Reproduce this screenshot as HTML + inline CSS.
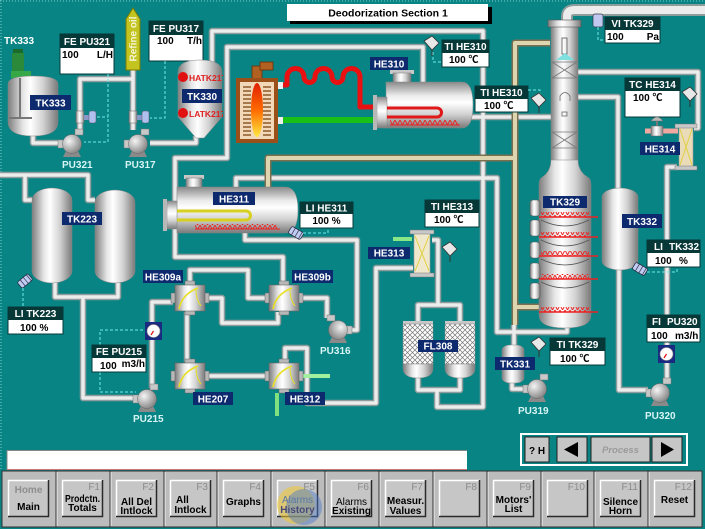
<!DOCTYPE html>
<html><head><meta charset="utf-8">
<style>
html,body{margin:0;padding:0;background:#088484;overflow:hidden}
svg{display:block}
text{font-family:"Liberation Sans","Noto Sans CJK SC",sans-serif;font-weight:bold}
.nv{fill:#0e2a6e}
.nt{fill:#fff;font-size:10px;text-anchor:middle}
.hd{fill:#073838}
.bx{fill:#fff;stroke:#073838;stroke-width:1}
.ht{fill:#fff;font-size:10px;text-anchor:middle}
.vt{fill:#000;font-size:10px}
.pl{fill:#d8f4f4;font-size:10px}
.fk{fill:#8c8c8c;font-size:10px;font-weight:normal;text-anchor:end}
.bt{fill:#000;font-size:10px;text-anchor:middle}
.dsh{fill:none;stroke:#70e8e8;stroke-width:1;stroke-dasharray:3,2}
</style></head><body>
<svg width="705" height="529" viewBox="0 0 705 529" xmlns="http://www.w3.org/2000/svg">
<defs>
<linearGradient id="gH" x1="0" y1="0" x2="1" y2="0">
<stop offset="0" stop-color="#7d7d7d"/><stop offset=".3" stop-color="#e6e6e6"/><stop offset=".45" stop-color="#ffffff"/><stop offset=".7" stop-color="#d2d2d2"/><stop offset="1" stop-color="#7a7a7a"/>
</linearGradient>
<linearGradient id="gV" x1="0" y1="0" x2="0" y2="1">
<stop offset="0" stop-color="#8a8a8a"/><stop offset=".3" stop-color="#ececec"/><stop offset=".45" stop-color="#ffffff"/><stop offset=".7" stop-color="#d2d2d2"/><stop offset="1" stop-color="#7a7a7a"/>
</linearGradient>
<radialGradient id="gR" cx=".35" cy=".35" r=".75">
<stop offset="0" stop-color="#f4f4f4"/><stop offset="1" stop-color="#7c7c7c"/>
</radialGradient>
<linearGradient id="flame" x1="0" y1="0" x2="0" y2="1">
<stop offset="0" stop-color="#e02000"/><stop offset=".5" stop-color="#ff6a00"/><stop offset="1" stop-color="#ffe840"/>
</linearGradient>
<pattern id="zz" width="5" height="5" patternUnits="userSpaceOnUse"><path d="M0,0 L2.5,5 L5,0" fill="none" stroke="#ee2020" stroke-width="0.9"/></pattern>
<pattern id="hatch" width="5" height="5" patternUnits="userSpaceOnUse"><rect width="5" height="5" fill="#fff"/><path d="M0,0 L5,5 M5,0 L0,5" stroke="#777" stroke-width=".7"/></pattern>
<clipPath id="tkclip"><rect x="176" y="55" width="47" height="90"/></clipPath>

<g id="wp">
<path d="M33,134 V143 H62"/>
<path d="M80,133 V79 H133"/>
<path d="M133,70 V130"/>
<path d="M150,143 H196 V136"/>
<path d="M212,62 V31 H483 V407 H437 V390"/>
<path d="M423,82 V47 H227 V158 H175 V257 H283 V283"/>
<path d="M236,187 V178 H497 V332 H567 V325"/>
<path d="M245,232 V240 H357 V330 H350"/>
<path d="M327,318 V298 H303"/>
<path d="M207,298 H222 V323 H278 V312"/>
<path d="M190,284 V270 H248 V298 H268"/>
<path d="M187,312 V362"/>
<path d="M207,376 H268"/>
<path d="M285,362 V348 H307 V403 H376 V268 H413"/>
<path d="M152,388 V302 H173"/>
<path d="M55,282 V297 H118 V283"/>
<path d="M83,297 V398 H134"/>
<path d="M0,175 H88 V200 H95"/>
<path d="M25,175 V200 H32"/>
<path d="M432,240 H438 V305"/>
<path d="M418,323 V305 H460 V323"/>
<path d="M418,377 V390 H460 V377"/>
<path d="M470,117 H552"/>
<path d="M578,72 H698 V128 H694"/>
<path d="M578,97 H618 V188"/>
<path d="M619,270 V390 H648"/>
<path d="M667,383 V167 H677"/>
<path d="M514,345 V325"/>
<path d="M512,382 V389 H524"/>
</g>
<g id="kp">
<path d="M268,187 V158 H515 V325"/>
<path d="M515,158 V43 H550"/>
<path d="M515,307 H540"/>
</g>
<g id="pump">
<path d="M-6,7 L-9,13 H9 L6,7 Z" fill="#8a8a8a"/>
<rect x="-14" y="-4" width="6" height="8" fill="#c8c8c8" stroke="#777" stroke-width=".5"/>
<rect x="3" y="-15" width="8" height="6" fill="#c8c8c8" stroke="#777" stroke-width=".5"/>
<circle r="9.5" fill="url(#gR)" stroke="#666" stroke-width=".5"/>
</g>
<g id="hx">
<rect x="-3" y="9" width="5" height="10" fill="#b8b8b8" stroke="#666" stroke-width=".5"/>
<rect x="30" y="9" width="5" height="10" fill="#b8b8b8" stroke="#666" stroke-width=".5"/>
<rect x="11" y="-3" width="10" height="5" fill="#b8b8b8" stroke="#666" stroke-width=".5"/>
<rect x="11" y="26" width="10" height="5" fill="#b8b8b8" stroke="#666" stroke-width=".5"/>
<rect x="1" y="1" width="30" height="26" fill="url(#gH)" stroke="#666" stroke-width=".6"/>
<path d="M5,25 Q8,10 24,4" fill="none" stroke="#e8e020" stroke-width="1.6"/>
<path d="M27,22 Q22,16 22,6" fill="none" stroke="#e8e020" stroke-width="1"/>
</g>
<g id="valve">
<rect x="-4" y="-6" width="8" height="12" fill="url(#gH)" stroke="#666" stroke-width=".5"/>
<rect x="4" y="-2" width="6" height="5" fill="#8898c8"/>
<rect x="9" y="-6" width="7" height="12" rx="2" fill="#b0c0ee" stroke="#556" stroke-width=".5"/>
</g>
<g id="ts">
<path d="M0,0 L8,-5 L15,2 L8,9 Z" fill="#e8e8e8" stroke="#333" stroke-width=".8"/>
<path d="M8,9 V15" stroke="#333" stroke-width="1"/>
</g>
<g id="ls">
<rect x="-7" y="-4" width="14" height="8" rx="2" fill="#c0ccf4" stroke="#223" stroke-width=".7"/>
<path d="M-3,-4 V4 M1,-4 V4 M5,-4 V4" stroke="#334" stroke-width=".7"/>
</g>
<g id="btn">
<rect x="0" y="0" width="41" height="37" fill="#c6c6c6"/>
<path d="M0.5,37 V0.5 H41" fill="none" stroke="#fff" stroke-width="1.5"/>
<path d="M40.5,0 V36.5 H0" fill="none" stroke="#2a2a2a" stroke-width="1.5"/>
</g>
</defs>

<rect width="705" height="529" fill="#088484"/>
<path d="M1,0 V470 M0,1 H705" stroke="#7ccccc" stroke-width="1" stroke-dasharray="1,2"/>

<!-- pipes -->
<use href="#wp" fill="none" stroke="#8e9c9c" stroke-width="6.5" stroke-linejoin="round"/>
<use href="#wp" fill="none" stroke="#ececec" stroke-width="3.5" stroke-linejoin="round"/>
<use href="#kp" fill="none" stroke="#7a7050" stroke-width="7" stroke-linejoin="round"/>
<use href="#kp" fill="none" stroke="#ddd4b0" stroke-width="4" stroke-linejoin="round"/>
<!-- big top pipe -->
<path d="M567,22 V16 Q567,10 575,10 H705" fill="none" stroke="#8e9c9c" stroke-width="12"/>
<path d="M567,22 V16 Q567,10 575,10 H705" fill="none" stroke="#ececec" stroke-width="8"/>

<!-- title -->
<rect x="290" y="7" width="202" height="17" fill="#000"/>
<rect x="287" y="4" width="201" height="17" fill="#fff"/>
<text x="388" y="16.5" font-size="10.5" text-anchor="middle" fill="#000">Deodorization Section 1</text>

<!-- TK333 -->
<text x="4" y="44" class="pl" fill="#fff" style="fill:#fff">TK333</text>
<rect x="13" y="49" width="10" height="5" fill="#1a6a2a"/>
<rect x="12" y="53" width="12" height="19" fill="#2a8a3a"/>
<rect x="11" y="71" width="20" height="7" fill="#36a848"/>
<path d="M8,84 Q8,76 33,76 Q58,76 58,84 V122 Q58,136 33,136 Q8,136 8,122 Z" fill="url(#gH)" stroke="#888" stroke-width=".5"/>
<path d="M20,78 V118" stroke="#777" stroke-width="2"/>
<path d="M9,118 H32" stroke="#777" stroke-width="2"/>
<rect x="30" y="95" width="41" height="15" class="nv"/>
<text x="50.5" y="106.5" class="nt">TK333</text>

<!-- FE PU321 -->
<rect x="60" y="34" width="54" height="40" class="bx"/>
<rect x="60" y="34" width="54" height="14" class="hd"/>
<text x="87" y="45" class="ht">FE PU321</text>
<text x="62" y="58" class="vt">100</text>
<text x="113" y="58" class="vt" text-anchor="end">L/H</text>
<path d="M108,74 V142 H84 M97,117 H108" class="dsh"/>

<!-- Refine oil -->
<path d="M126,70 V19 L133,8 L140,19 V70 Z" fill="#c4c420" stroke="#7a7a00" stroke-width="1"/>
<text x="133" y="39" transform="rotate(-90 133 39)" font-size="10" text-anchor="middle" dy="3.5" fill="#f4f4d8">Refine oil</text>

<!-- FE PU317 -->
<rect x="149" y="21" width="54" height="40" class="bx"/>
<rect x="149" y="21" width="54" height="14" class="hd"/>
<text x="176" y="32" class="ht">FE PU317</text>
<text x="157" y="44" class="vt">100</text>
<text x="202" y="44" class="vt" text-anchor="end">T/h</text>
<path d="M165,61 V118 H150" class="dsh"/>

<!-- valves & pumps -->
<use href="#valve" x="80" y="117"/>
<use href="#valve" x="133" y="117"/>
<use href="#pump" transform="translate(72,144)"/>
<use href="#pump" transform="translate(138,144)"/>
<text x="62" y="168" class="pl">PU321</text>
<text x="125" y="168" class="pl">PU317</text>

<!-- TK330 -->
<path d="M178,72 Q178,60 200,60 Q222,60 222,72 V117 L204,138 H196 L178,117 Z" fill="url(#gH)" stroke="#888" stroke-width=".5"/>
<g clip-path="url(#tkclip)">
<circle cx="183" cy="77" r="5" fill="#e01010"/>
<circle cx="183" cy="113" r="5" fill="#e01010"/>
<text x="189" y="81" font-size="8.5" fill="#e02020">HATK217</text>
<text x="189" y="117" font-size="8.5" fill="#e02020">LATK217</text>
</g>
<rect x="182" y="89" width="40" height="14" class="nv"/>
<text x="202" y="100" class="nt">TK330</text>

<!-- Heater -->
<rect x="252" y="66" width="10" height="13" fill="#b06020" stroke="#6a3008" stroke-width=".8"/>
<rect x="260" y="62" width="13" height="8" fill="#b06020" stroke="#6a3008" stroke-width=".8"/>
<rect x="236" y="78" width="42" height="65" fill="#9a5018"/>
<rect x="240" y="82" width="34" height="57" fill="#f0d8b8"/>
<path d="M243,87 h8 M263,87 h8 M243,91 h8 M263,91 h8 M243,95 h8 M263,95 h8 M243,99 h8 M263,99 h8 M243,103 h8 M263,103 h8 M243,107 h8 M263,107 h8 M243,111 h8 M263,111 h8 M243,115 h8 M263,115 h8 M243,119 h8 M263,119 h8 M243,123 h8 M263,123 h8 M243,127 h8 M263,127 h8 M243,131 h8 M263,131 h8 M243,135 h8 M263,135 h8" stroke="#7a4010" stroke-width="1.3"/>
<ellipse cx="257" cy="110" rx="6" ry="27" fill="url(#flame)"/>
<rect x="278" y="82" width="5" height="7" fill="#eee"/>
<rect x="278" y="117" width="5" height="7" fill="#eee"/>
<path d="M283,85 H287 V77 a8.5,8.5 0 0 1 17,0 a5.5,5.5 0 0 0 11,0 a8.5,8.5 0 0 1 17,0 a5.5,5.5 0 0 0 11,0 a8.5,8.5 0 0 1 17,0 V107 H376" fill="none" stroke="#e81010" stroke-width="5" stroke-linejoin="round"/>
<path d="M283,120 H376" stroke="#18c018" stroke-width="6"/>

<!-- HE310 -->
<rect x="390" y="70" width="24" height="4" fill="#c8c8c8"/>
<rect x="393" y="73" width="18" height="10" fill="url(#gH)" stroke="#777" stroke-width=".5"/>
<path d="M386,82 H462 Q473,82 473,105 Q473,128 462,128 H386 Z" fill="url(#gV)" stroke="#888" stroke-width=".5"/>
<rect x="377" y="97" width="10" height="31" fill="url(#gV)" stroke="#888" stroke-width=".5"/>
<rect x="373" y="95" width="4" height="35" fill="#b8b8b8"/>
<path d="M387,108 H437 A4.5,4.5 0 0 1 437,117 H387" fill="none" stroke="#e01818" stroke-width="3"/>
<rect x="390" y="120" width="68" height="5" fill="url(#zz)"/>
<path d="M390,125 H460" stroke="#ee2020" stroke-width="1"/>
<rect x="370" y="57" width="38" height="13" class="nv"/>
<text x="389" y="67.5" class="nt">HE310</text>
<use href="#ts" x="424" y="41"/>
<path d="M433,52 V62 H442" class="dsh"/>
<rect x="442" y="40" width="47" height="27" class="bx"/>
<rect x="442" y="40" width="47" height="13" class="hd"/>
<text x="465.5" y="50" class="ht">TI HE310</text>
<text x="449" y="63" class="vt">100 ℃</text>

<!-- TI HE310 b -->
<rect x="475" y="86" width="53" height="26" class="bx"/>
<rect x="475" y="86" width="53" height="13" class="hd"/>
<text x="501.5" y="96" class="ht">TI HE310</text>
<text x="484" y="109" class="vt">100 ℃</text>
<path d="M528,90 H540 V95" class="dsh"/>
<use href="#ts" x="531" y="98"/>

<!-- VI TK329 -->
<rect x="593" y="14" width="10" height="13" rx="2" fill="#c0c8f0" stroke="#334" stroke-width=".7"/>
<path d="M598,27 V40 H605" class="dsh"/>
<rect x="605" y="17" width="55" height="26" class="bx"/>
<rect x="605" y="17" width="55" height="13" class="hd"/>
<text x="632.5" y="27" class="ht">VI TK329</text>
<text x="607" y="40" class="vt">100</text>
<text x="659" y="40" class="vt" text-anchor="end">Pa</text>

<!-- TC HE314 -->
<rect x="625" y="78" width="55" height="39" class="bx"/>
<rect x="625" y="78" width="55" height="13" class="hd"/>
<text x="652.5" y="88" class="ht">TC HE314</text>
<text x="633" y="101" class="vt">100 ℃</text>
<use href="#ts" x="682" y="92"/>

<!-- HE314 -->
<path d="M645,131 H678" stroke="#f0a8a0" stroke-width="5"/>
<rect x="651" y="126" width="12" height="10" fill="url(#gH)" stroke="#666" stroke-width=".5"/>
<path d="M657,126 V121" stroke="#777" stroke-width="2"/>
<path d="M651,121 Q657,113 663,121 Z" fill="#b8b8b8" stroke="#666" stroke-width=".5"/>
<rect x="679" y="127" width="14" height="40" fill="#eadcb8" stroke="#999" stroke-width=".6"/>
<path d="M680,129 L692,165 M692,129 L680,165" stroke="#e0d040" stroke-width="1"/>
<rect x="675" y="124" width="22" height="4" fill="#c8c8c8" stroke="#777" stroke-width=".5"/>
<rect x="675" y="166" width="22" height="4" fill="#c8c8c8" stroke="#777" stroke-width=".5"/>
<rect x="640" y="142" width="40" height="13" class="nv"/>
<text x="660" y="152.5" class="nt">HE314</text>

<!-- TK329 column -->
<rect x="551" y="26" width="27" height="140" fill="url(#gH)" stroke="#888" stroke-width=".5"/>
<rect x="548" y="20" width="33" height="7" fill="url(#gH)" stroke="#555" stroke-width=".6"/>
<rect x="562" y="38" width="5" height="16" fill="none" stroke="#555" stroke-width=".8"/>
<path d="M556,60 L565,53 L574,60 Z" fill="#80e0e0"/>
<path d="M552,62 H577 M552,78 H577 M552,62 L577,78 M577,62 L552,78" stroke="#777" stroke-width=".8"/>
<path d="M560,101 V96 Q565,89 570,96 V101" fill="none" stroke="#666" stroke-width=".8"/>
<rect x="562" y="112" width="5" height="4" fill="none" stroke="#666" stroke-width=".8"/>
<path d="M552,132 H577 M552,148 H577 M552,132 L577,148 M577,132 L552,148" stroke="#777" stroke-width=".8"/>
<path d="M551,160 Q551,172 541,178 Q539,180 539,186 V315 Q539,328 565,328 Q591,328 591,315 V186 Q591,180 589,178 Q578,172 578,160 Z" fill="url(#gH)" stroke="#888" stroke-width=".5"/>
<rect x="530" y="200" width="10" height="16" rx="3" fill="url(#gH)" stroke="#555" stroke-width=".6"/>
<rect x="530" y="220" width="10" height="16" rx="3" fill="url(#gH)" stroke="#555" stroke-width=".6"/>
<rect x="530" y="242" width="10" height="16" rx="3" fill="url(#gH)" stroke="#555" stroke-width=".6"/>
<rect x="530" y="263" width="10" height="16" rx="3" fill="url(#gH)" stroke="#555" stroke-width=".6"/>
<rect x="530" y="283" width="10" height="16" rx="3" fill="url(#gH)" stroke="#555" stroke-width=".6"/>
<path d="M541,220 Q565,232 589,220 M541,240 Q565,252 589,240 M541,259 Q565,271 589,259 M541,282 Q565,294 589,282" fill="none" stroke="#555" stroke-width=".7"/>
<rect x="541" y="212" width="48" height="5" fill="url(#zz)"/>
<rect x="541" y="232" width="48" height="5" fill="url(#zz)"/>
<rect x="541" y="251" width="48" height="5" fill="url(#zz)"/>
<rect x="541" y="274" width="48" height="5" fill="url(#zz)"/>
<rect x="541" y="307" width="48" height="5" fill="url(#zz)"/>
<path d="M539,217 H598 M539,237 H598 M539,256 H598 M539,279 H598 M539,312 H598" stroke="#ee2020" stroke-width="1.5"/>
<rect x="543" y="196" width="44" height="12" class="nv"/>
<text x="565" y="205.5" class="nt">TK329</text>

<!-- TK332 -->
<rect x="602" y="188" width="36" height="82" rx="18" ry="9" fill="url(#gH)" stroke="#888" stroke-width=".5"/>
<rect x="622" y="214" width="40" height="14" class="nv"/>
<text x="642" y="225" class="nt">TK332</text>
<use href="#ls" transform="translate(640,269) rotate(30)"/>
<path d="M647,272 H677 V267" class="dsh"/>
<rect x="647" y="240" width="53" height="27" class="bx"/>
<rect x="647" y="240" width="53" height="13" class="hd"/>
<text x="654" y="250" class="ht" text-anchor="start" style="text-anchor:start">LI</text>
<text x="669" y="250" class="ht" style="text-anchor:start">TK332</text>
<text x="655" y="264" class="vt">100</text>
<text x="679" y="264" class="vt">%</text>
<rect x="647" y="315" width="53" height="27" class="bx"/>
<rect x="647" y="315" width="53" height="13" class="hd"/>
<text x="652" y="325" class="ht" style="text-anchor:start">FI</text>
<text x="667" y="325" class="ht" style="text-anchor:start">PU320</text>
<text x="651" y="339" class="vt">100</text>
<text x="675" y="339" class="vt">m3/h</text>
<rect x="658" y="345" width="17" height="18" fill="#1a2a80"/>
<circle cx="666.5" cy="354" r="6.5" fill="#fff" stroke="#888" stroke-width=".6"/>
<path d="M666.5,354 L664,358" stroke="#e01010" stroke-width="1.2"/>
<use href="#pump" transform="translate(660,393)"/>
<text x="645" y="419" class="pl">PU320</text>

<!-- TK331 / PU319 / TI TK329 -->
<rect x="502" y="345" width="22" height="38" rx="8" ry="5" fill="url(#gH)" stroke="#888" stroke-width=".5"/>
<rect x="495" y="357" width="40" height="13" class="nv"/>
<text x="515" y="367.5" class="nt">TK331</text>
<use href="#pump" transform="translate(537,389)"/>
<text x="518" y="414" class="pl">PU319</text>
<use href="#ts" x="531" y="342"/>
<rect x="550" y="338" width="55" height="27" class="bx"/>
<rect x="550" y="338" width="55" height="13" class="hd"/>
<text x="577.5" y="348" class="ht">TI TK329</text>
<text x="560" y="362" class="vt">100 ℃</text>

<!-- HE311 -->
<rect x="184" y="175" width="20" height="4" fill="#c8c8c8"/>
<rect x="186" y="178" width="16" height="10" fill="url(#gH)" stroke="#777" stroke-width=".5"/>
<path d="M177,187 H285 Q298,187 298,210 Q298,233 285,233 H177 Z" fill="url(#gV)" stroke="#888" stroke-width=".5"/>
<rect x="167" y="201" width="10" height="28" fill="url(#gV)" stroke="#888" stroke-width=".5"/>
<rect x="163" y="199" width="4" height="32" fill="#b8b8b8"/>
<path d="M177,211 H246 A4.5,4.5 0 0 1 246,220 H177" fill="none" stroke="#d8d020" stroke-width="3"/>
<rect x="195" y="224" width="82" height="5" fill="url(#zz)"/>
<path d="M195,229 H280" stroke="#ee2020" stroke-width="1"/>
<rect x="213" y="192" width="42" height="13" class="nv"/>
<text x="234" y="202.5" class="nt">HE311</text>
<use href="#ls" transform="translate(296,233) rotate(30)"/>
<path d="M303,233 H328 V228" class="dsh"/>
<rect x="300" y="202" width="53" height="26" class="bx"/>
<rect x="300" y="202" width="53" height="12" class="hd"/>
<text x="326.5" y="211.5" class="ht">LI HE311</text>
<text x="326.5" y="224" class="vt" text-anchor="middle">100 %</text>

<!-- TK223 -->
<rect x="32" y="188" width="40" height="95" rx="20" ry="12" fill="url(#gH)" stroke="#888" stroke-width=".5"/>
<rect x="95" y="190" width="40" height="93" rx="20" ry="12" fill="url(#gH)" stroke="#888" stroke-width=".5"/>
<rect x="62" y="212" width="40" height="13" class="nv"/>
<text x="82" y="222.5" class="nt">TK223</text>
<use href="#ls" transform="translate(25,281) rotate(-40)"/>
<path d="M23,288 V307" class="dsh"/>
<rect x="8" y="307" width="55" height="27" class="bx"/>
<rect x="8" y="307" width="55" height="13" class="hd"/>
<text x="35.5" y="317" class="ht">LI TK223</text>
<text x="20" y="331" class="vt">100 %</text>

<!-- FE PU215 -->
<path d="M100,345 V330 H145 M100,372 V392 H136" class="dsh"/>
<rect x="92" y="345" width="54" height="27" class="bx"/>
<rect x="92" y="345" width="54" height="13" class="hd"/>
<text x="119" y="355" class="ht">FE PU215</text>
<text x="100" y="369" class="vt">100</text>
<text x="145" y="367" class="vt" text-anchor="end">m3/h</text>
<rect x="145" y="322" width="17" height="18" fill="#1a2a80"/>
<circle cx="153.5" cy="331" r="6.5" fill="#fff" stroke="#888" stroke-width=".6"/>
<path d="M153.5,331 L151,335" stroke="#e01010" stroke-width="1.2"/>
<use href="#pump" transform="translate(147,399)"/>
<text x="133" y="422" class="pl">PU215</text>

<!-- heat exchangers -->
<path d="M277,393 V416" stroke="#80e080" stroke-width="4"/>
<path d="M302,376 H330" stroke="#a0f0a0" stroke-width="4"/>
<use href="#hx" x="174" y="284"/>
<use href="#hx" x="268" y="284"/>
<use href="#hx" x="174" y="362"/>
<use href="#hx" x="268" y="362"/>
<rect x="143" y="270" width="40" height="13" class="nv"/>
<text x="163" y="280.5" class="nt">HE309a</text>
<rect x="292" y="270" width="41" height="13" class="nv"/>
<text x="312.5" y="280.5" class="nt">HE309b</text>
<rect x="193" y="392" width="40" height="13" class="nv"/>
<text x="213" y="402.5" class="nt">HE207</text>
<rect x="285" y="392" width="40" height="13" class="nv"/>
<text x="305" y="402.5" class="nt">HE312</text>
<use href="#pump" transform="translate(338,330) scale(-1,1)"/>
<text x="320" y="354" class="pl">PU316</text>

<!-- HE313 -->
<path d="M393,239 H412" stroke="#88e888" stroke-width="4"/>
<rect x="414" y="232" width="16" height="43" fill="#f0e8cc" stroke="#999" stroke-width=".6"/>
<path d="M415,236 L429,271 M429,236 L415,271" stroke="#e0d040" stroke-width="1"/>
<rect x="410" y="230" width="24" height="4" fill="#c8c8c8" stroke="#777" stroke-width=".5"/>
<rect x="410" y="273" width="24" height="4" fill="#c8c8c8" stroke="#777" stroke-width=".5"/>
<rect x="368" y="247" width="42" height="12" class="nv"/>
<text x="389" y="256.5" class="nt">HE313</text>
<use href="#ts" x="442" y="247"/>
<rect x="425" y="200" width="54" height="27" class="bx"/>
<rect x="425" y="200" width="54" height="13" class="hd"/>
<text x="452" y="210" class="ht">TI HE313</text>
<text x="434" y="223" class="vt">100 ℃</text>

<!-- FL308 -->
<rect x="403" y="321" width="30" height="3" fill="#c8c8c8"/>
<rect x="403" y="324" width="30" height="40" fill="url(#hatch)" stroke="#888" stroke-width=".5"/>
<path d="M403,364 H433 V368 Q433,378 418,378 Q403,378 403,368 Z" fill="url(#gH)" stroke="#888" stroke-width=".5"/>
<rect x="445" y="321" width="30" height="3" fill="#c8c8c8"/>
<rect x="445" y="324" width="30" height="40" fill="url(#hatch)" stroke="#888" stroke-width=".5"/>
<path d="M445,364 H475 V368 Q475,378 460,378 Q445,378 445,368 Z" fill="url(#gH)" stroke="#888" stroke-width=".5"/>
<rect x="418" y="340" width="40" height="12" class="nv"/>
<text x="438" y="349.5" class="nt">FL308</text>

<!-- status bar -->
<rect x="7" y="450" width="460" height="20" fill="#fff"/>
<path d="M7,470 V450.5 H467" fill="none" stroke="#888" stroke-width="1"/>
<path d="M7,469.5 H467" stroke="#d07878" stroke-width="1"/>

<!-- nav box -->
<rect x="521" y="434" width="166" height="31" fill="none" stroke="#fff" stroke-width="2"/>
<rect x="525" y="437" width="24" height="25" fill="#c6c6c6" stroke="#222" stroke-width="1"/>
<text x="529" y="454" font-size="10" fill="#000">? H</text>
<rect x="557" y="437" width="30" height="25" fill="#c6c6c6" stroke="#222" stroke-width="1"/>
<path d="M564,449.5 L578,442 V457 Z" fill="#000"/>
<rect x="591" y="437" width="59" height="25" fill="#c6c6c6" stroke="#222" stroke-width="1"/>
<text x="620.5" y="453" font-size="9.5" font-style="italic" font-weight="normal" text-anchor="middle" fill="#9a9a9a">Process</text>
<rect x="652" y="437" width="30" height="25" fill="#c6c6c6" stroke="#222" stroke-width="1"/>
<path d="M674,449.5 L661,442 V457 Z" fill="#000"/>

<!-- toolbar -->
<rect x="2" y="471" width="700" height="56" fill="#bcbcbc" stroke="#333" stroke-width="1"/>
<path d="M56,471 V527 M110,471 V527 M164,471 V527 M217,471 V527 M271,471 V527 M325,471 V527 M379,471 V527 M433,471 V527 M487,471 V527 M541,471 V527 M594,471 V527 M648,471 V527" stroke="#333" stroke-width="1"/>
<path d="M57,472 V526 M111,472 V526 M165,472 V526 M218,472 V526 M272,472 V526 M326,472 V526 M380,472 V526 M434,472 V526 M488,472 V526 M542,472 V526 M595,472 V526 M649,472 V526" stroke="#eee" stroke-width="1"/>
<use href="#btn" x="8" y="480"/>
<use href="#btn" x="62" y="480"/>
<use href="#btn" x="116" y="480"/>
<use href="#btn" x="170" y="480"/>
<use href="#btn" x="223" y="480"/>
<use href="#btn" x="277" y="480"/>
<use href="#btn" x="331" y="480"/>
<use href="#btn" x="385" y="480"/>
<use href="#btn" x="439" y="480"/>
<use href="#btn" x="493" y="480"/>
<use href="#btn" x="547" y="480"/>
<use href="#btn" x="600" y="480"/>
<use href="#btn" x="654" y="480"/>

<text x="28.5" y="493" class="bt" style="fill:#8e8e8e">Home</text>
<text x="28.5" y="510" class="bt">Main</text>
<text x="100" y="490" class="fk">F1</text>
<text x="82.5" y="502" class="bt" textLength="35" lengthAdjust="spacingAndGlyphs">Prodctn.</text>
<text x="82.5" y="511" class="bt">Totals</text>
<text x="154" y="490" class="fk">F2</text>
<text x="136.5" y="505" class="bt">All Del</text>
<text x="136.5" y="514" class="bt">Intlock</text>
<text x="208" y="490" class="fk">F3</text>
<text x="176" y="503" class="bt" style="text-anchor:start">All</text>
<text x="190.5" y="513" class="bt">Intlock</text>
<text x="261" y="490" class="fk">F4</text>
<text x="243.5" y="505" class="bt">Graphs</text>
<circle cx="296" cy="505" r="19" fill="#f0c830" opacity=".55"/>
<circle cx="304" cy="507" r="18" fill="#4a78c8" opacity=".45"/>
<text x="315" y="490" class="fk">F5</text>
<text x="297.5" y="503" class="bt" style="fill:#5a78a8;font-weight:normal">Alarms</text>
<text x="297.5" y="513" class="bt" style="fill:#4a4a7a">History</text>
<text x="369" y="490" class="fk">F6</text>
<text x="351.5" y="505" class="bt" style="font-weight:normal">Alarms</text>
<text x="351.5" y="514" class="bt">Existing</text>
<text x="423" y="490" class="fk">F7</text>
<text x="405.5" y="504" class="bt">Measur.</text>
<text x="405.5" y="514" class="bt">Values</text>
<text x="477" y="490" class="fk">F8</text>
<text x="531" y="490" class="fk">F9</text>
<text x="513.5" y="503" class="bt">Motors'</text>
<text x="513.5" y="512" class="bt">List</text>
<text x="585" y="490" class="fk">F10</text>
<text x="638" y="490" class="fk">F11</text>
<text x="620.5" y="505" class="bt">Silence</text>
<text x="620.5" y="514" class="bt">Horn</text>
<text x="692" y="490" class="fk">F12</text>
<text x="674.5" y="503" class="bt">Reset</text>
</svg>
</body></html>
